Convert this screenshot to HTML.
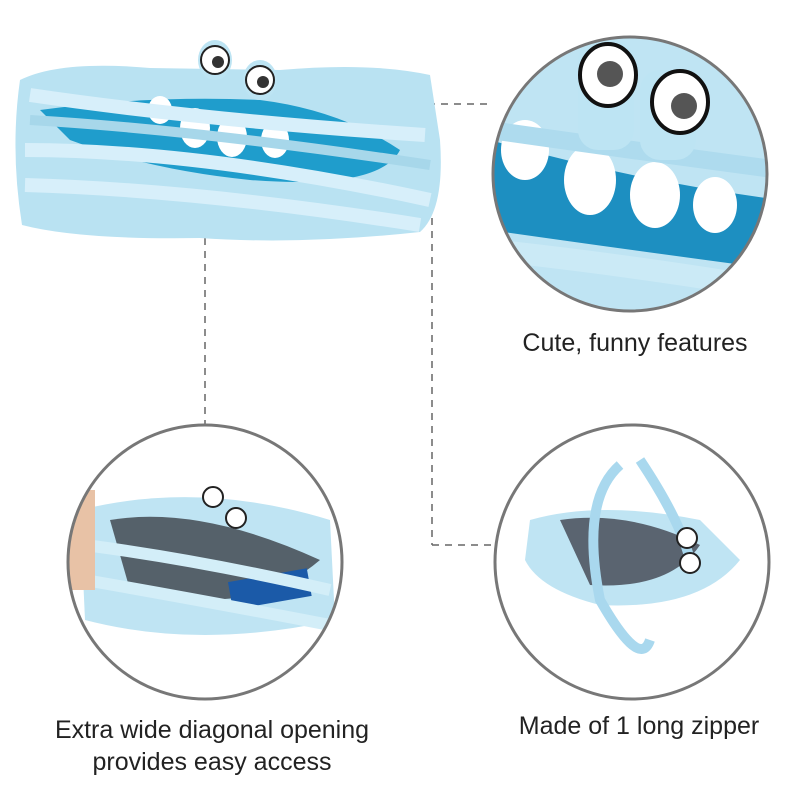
<!DOCTYPE html>
<html><head><style>
html,body{margin:0;padding:0;background:#fff;}
.t{font-family:"Liberation Sans",sans-serif;font-size:25px;fill:#222;}
</style></head><body>
<svg width="800" height="800" viewBox="0 0 800 800" xmlns="http://www.w3.org/2000/svg">
<defs>
<clipPath id="c1"><circle cx="630" cy="174" r="136"/></clipPath>
<clipPath id="c2"><circle cx="205" cy="562" r="136"/></clipPath>
<clipPath id="c3"><circle cx="632" cy="562" r="136"/></clipPath>
</defs>
<rect width="800" height="800" fill="#fff"/>
<g stroke="#666" stroke-width="1.5" stroke-dasharray="7,6" fill="none">
<line x1="350" y1="104" x2="492" y2="104"/>
<line x1="205" y1="160" x2="205" y2="425"/>
<line x1="432" y1="205" x2="432" y2="545"/>
<line x1="432" y1="545" x2="493" y2="545"/>
</g>
<g>
<path d="M20 80 Q60 60 150 68 L280 70 Q370 62 430 75 L440 140 Q445 210 420 232 Q300 245 200 238 Q80 240 22 225 Q10 150 20 80Z" fill="#b9e2f2"/>
<path d="M40 110 Q150 95 260 100 Q340 110 400 150 Q380 190 250 180 Q150 170 70 140Z" fill="#1f9dcc"/>
<g fill="#fff"><ellipse cx="195" cy="128" rx="15" ry="20"/><ellipse cx="232" cy="137" rx="15" ry="20"/><ellipse cx="275" cy="140" rx="14" ry="18"/><ellipse cx="160" cy="110" rx="12" ry="14"/></g>
<path d="M25 150 Q200 150 430 200 M25 185 Q200 190 420 225 M30 95 Q200 120 425 135" stroke="#d7effa" stroke-width="14" fill="none"/>
<path d="M30 120 Q200 130 430 165" stroke="#a7d7ea" stroke-width="10" fill="none"/>
<ellipse cx="215" cy="60" rx="17" ry="20" fill="#bde4f3"/><circle cx="215" cy="60" r="14" fill="#fff" stroke="#222" stroke-width="2"/><circle cx="218" cy="62" r="6" fill="#333"/>
<ellipse cx="260" cy="80" rx="17" ry="20" fill="#bde4f3"/><circle cx="260" cy="80" r="14" fill="#fff" stroke="#222" stroke-width="2"/><circle cx="263" cy="82" r="6" fill="#333"/>
</g>
<g clip-path="url(#c1)">
<rect x="490" y="35" width="285" height="280" fill="#bfe4f3"/>
<path d="M490 140 Q630 180 780 200 L780 270 Q630 250 490 230Z" fill="#1d8fc1"/>
<g fill="#fff"><ellipse cx="525" cy="150" rx="24" ry="30"/><ellipse cx="590" cy="180" rx="26" ry="35"/><ellipse cx="655" cy="195" rx="25" ry="33"/><ellipse cx="715" cy="205" rx="22" ry="28"/></g>
<path d="M490 130 Q630 150 780 170" stroke="#aedbee" stroke-width="18" fill="none"/>
<path d="M490 250 Q630 265 780 290" stroke="#cbeaf6" stroke-width="22" fill="none"/>
<rect x="578" y="40" width="56" height="110" rx="20" fill="#bde4f3"/>
<rect x="640" y="70" width="56" height="90" rx="20" fill="#bde4f3"/>
<ellipse cx="608" cy="75" rx="28" ry="31" fill="#fff" stroke="#111" stroke-width="4"/><circle cx="610" cy="74" r="13" fill="#555"/>
<ellipse cx="680" cy="102" rx="28" ry="31" fill="#fff" stroke="#111" stroke-width="4"/><circle cx="684" cy="106" r="13" fill="#555"/>
</g>
<circle cx="630" cy="174" r="137" fill="none" stroke="#777" stroke-width="3"/>
<g clip-path="url(#c2)">
<rect x="65" y="425" width="285" height="280" fill="#fff"/>
<path d="M80 510 Q200 480 330 520 L335 620 Q200 650 85 620Z" fill="#bfe4f3"/>
<path d="M110 520 Q200 505 320 560 Q250 620 130 590Z" fill="#55616a"/>
<rect x="230" y="575" width="80" height="28" fill="#1b5aa8" transform="rotate(-10 270 590)"/>
<path d="M85 545 Q200 560 330 590 M85 580 Q200 600 330 625" stroke="#d3eef8" stroke-width="12" fill="none"/>
<rect x="65" y="490" width="30" height="100" fill="#e8c2a6"/>
<circle cx="213" cy="497" r="10" fill="#fff" stroke="#222" stroke-width="2"/><circle cx="236" cy="518" r="10" fill="#fff" stroke="#222" stroke-width="2"/>
</g>
<circle cx="205" cy="562" r="137" fill="none" stroke="#777" stroke-width="3"/>
<g clip-path="url(#c3)">
<rect x="493" y="425" width="285" height="280" fill="#fff"/>
<path d="M530 520 Q600 500 700 520 L740 560 Q700 610 600 605 Q540 590 525 560Z" fill="#bfe4f3"/>
<path d="M560 520 Q630 510 700 545 Q670 590 590 585Z" fill="#5a6470"/>
<path d="M620 465 Q580 500 600 600 Q640 670 650 640 M640 460 Q680 520 690 560" stroke="#a9d8ee" stroke-width="10" fill="none"/>
<circle cx="687" cy="538" r="10" fill="#fff" stroke="#222" stroke-width="2"/><circle cx="690" cy="563" r="10" fill="#fff" stroke="#222" stroke-width="2"/>
</g>
<circle cx="632" cy="562" r="137" fill="none" stroke="#777" stroke-width="3"/>
<text class="t" x="635" y="351" text-anchor="middle">Cute, funny features</text>
<text class="t" x="212" y="738" text-anchor="middle">Extra wide diagonal opening</text>
<text class="t" x="212" y="770" text-anchor="middle">provides easy access</text>
<text class="t" x="639" y="734" text-anchor="middle">Made of 1 long zipper</text>
</svg>
</body></html>
